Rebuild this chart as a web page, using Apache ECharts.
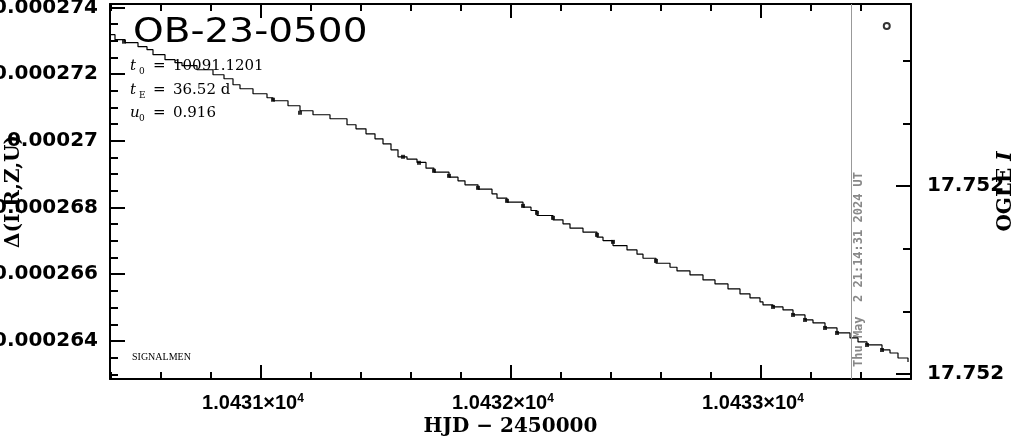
<!DOCTYPE html>
<html><head><meta charset="utf-8">
<script src="https://cdn.jsdelivr.net/npm/echarts@6/dist/echarts.min.js"></script>
<style>html,body{margin:0;padding:0;background:#fff}#c{width:1014px;height:437px}</style>
</head><body><div id="c"></div>
<script>
// Model curve (staircase), HJD-2450000 where each level starts, and its value
const modelX = [10430.396,10430.416,10430.456,10430.508,10430.544,10430.568,10430.616,10430.656,10430.684,10430.744,10430.808,10430.852,10430.888,10430.916,10430.968,10431.024,10431.048,10431.108,10431.156,10431.208,10431.276,10431.344,10431.380,10431.420,10431.456,10431.488,10431.520,10431.548,10431.584,10431.624,10431.660,10431.692,10431.752,10431.788,10431.816,10431.868,10431.924,10431.944,10431.984,10432.048,10432.080,10432.104,10432.168,10432.208,10432.236,10432.288,10432.344,10432.368,10432.408,10432.464,10432.504,10432.528,10432.580,10432.636,10432.664,10432.716,10432.768,10432.816,10432.868,10432.916,10432.956,10432.996,10433.008,10433.048,10433.088,10433.128,10433.176,10433.208,10433.256,10433.304,10433.356,10433.388,10433.424,10433.484,10433.516,10433.548,10433.588];
const modelY = [0.00027318,0.00027303,0.00027294,0.00027282,0.00027273,0.00027258,0.00027243,0.00027234,0.00027225,0.00027213,0.00027198,0.00027186,0.00027168,0.00027156,0.00027141,0.00027129,0.00027120,0.00027105,0.00027090,0.00027078,0.00027066,0.00027048,0.00027036,0.00027021,0.00027006,0.00026991,0.00026973,0.00026952,0.00026945,0.00026935,0.00026918,0.00026906,0.00026891,0.00026880,0.00026868,0.00026855,0.00026841,0.00026828,0.00026816,0.00026801,0.00026791,0.00026776,0.00026763,0.00026751,0.00026738,0.00026726,0.00026711,0.00026701,0.00026686,0.00026673,0.00026660,0.00026648,0.00026633,0.00026621,0.00026610,0.00026598,0.00026583,0.00026571,0.00026556,0.00026541,0.00026529,0.00026517,0.00026508,0.00026502,0.00026493,0.00026478,0.00026463,0.00026454,0.00026439,0.00026424,0.00026409,0.00026397,0.00026388,0.00026373,0.00026364,0.00026349,0.00026337];
// Data points
const dataX = [10430.452,10431.048,10431.156,10431.568,10431.632,10431.692,10431.752,10431.868,10431.984,10432.048,10432.104,10432.168,10432.344,10432.408,10432.580,10433.048,10433.128,10433.176,10433.256,10433.304,10433.424,10433.484];
const dataY = [0.00027297,0.00027123,0.00027084,0.00026952,0.00026934,0.00026910,0.00026895,0.00026859,0.00026820,0.00026805,0.00026784,0.00026769,0.00026718,0.00026697,0.00026640,0.00026502,0.00026478,0.00026463,0.00026439,0.00026424,0.00026388,0.00026373];
// OGLE I point (right axis)
const ogleX = [10433.503];
const ogleMag = [17.751644];
// Current-time marker
const markerHJD = 10433.364;
const markerText = 'Thu May  2 21:14:31 2024 UT';
// Texts
const eventName = 'OB-23-0500';
const paramSym = ['t','t','u'];
const paramSub = ['0','E','0'];
const paramVal = ['10091.1201','36.52 d','0.916'];
const footnote = 'SIGNALMEN';
const xName = 'HJD − 2450000';
const yName = 'Δ(I,R,Z,U)';
// Axis ranges
const xRange = [10430.396, 10433.6];
const yRange = [0.00026286, 0.0002741];
const magRange = [17.751609, 17.752208];

const chart = echarts.init(document.getElementById('c'), null, {renderer:'canvas'});
const blk = '#000';
const tickStyle = {color: blk, width: 2};
const lineStyle = {color: blk, width: 2};
const near = (v, step) => Math.abs(v/step - Math.round(v/step)) < 1e-4;

const xCommon = {
  type:'value', min:xRange[0], max:xRange[1], splitNumber:3, scale:true,
  axisLine:{show:true, onZero:false, lineStyle},
  axisTick:{show:true, inside:true, length:14, lineStyle:tickStyle},
  minorTick:{show:true, splitNumber:5, length:7, lineStyle:tickStyle},
  splitLine:{show:false}, minorSplitLine:{show:false}
};
const option = {
  animation:false,
  backgroundColor:'#fff',
  grid:{left:110, right:103, top:4, bottom:58, containLabel:false, outerBoundsMode:'none'},
  xAxis:[
    Object.assign({}, xCommon, {
      position:'bottom',
      axisLabel:{show:true, margin:14, padding:[0,16,0,0], color:blk,
        showMinLabel:false, showMaxLabel:false, hideOverlap:false,
        formatter: v => near(v,1) ? '{a|' + (v/1e4).toFixed(4) + '×10}{s|4}' : '',
        rich:{a:{fontFamily:'Liberation Sans', fontWeight:'bold', fontSize:20, color:blk},
              s:{fontFamily:'Liberation Sans', fontWeight:'bold', fontSize:12, color:blk, padding:[0,0,9,0]}}},
      name:xName, nameLocation:'middle', nameGap:38, nameMoveOverlap:false,
      nameTextStyle:{fontFamily:'DejaVu Serif', fontWeight:'bold', fontSize:20, color:blk}
    }),
    Object.assign({}, xCommon, {position:'top', axisLabel:{show:false}})
  ],
  yAxis:[
    {type:'value', position:'left', min:yRange[0], max:yRange[1], splitNumber:5, scale:true,
     axisLine:{show:true, onZero:false, lineStyle},
     axisTick:{show:true, inside:true, length:15, lineStyle:tickStyle},
     minorTick:{show:true, splitNumber:4, length:8, lineStyle:tickStyle},
     splitLine:{show:false}, minorSplitLine:{show:false},
     axisLabel:{show:true, margin:12, color:blk, fontFamily:'DejaVu Sans', fontWeight:'bold', fontSize:20,
       showMinLabel:false, showMaxLabel:false, hideOverlap:false,
       formatter: v => near(v,2e-6) ? String(Number(v.toPrecision(3))) : ''},
     name:yName, nameLocation:'middle', nameGap:86, nameRotate:90, nameMoveOverlap:false,
     nameTextStyle:{fontFamily:'DejaVu Serif', fontWeight:'bold', fontSize:20, color:blk}
    },
    {type:'value', position:'right', inverse:true, min:magRange[0], max:magRange[1], splitNumber:2, scale:true,
     axisLine:{show:true, onZero:false, lineStyle},
     axisTick:{show:true, inside:true, length:15, lineStyle:tickStyle},
     minorTick:{show:true, splitNumber:3, length:8, lineStyle:tickStyle},
     splitLine:{show:false}, minorSplitLine:{show:false},
     axisLabel:{show:true, margin:16, color:blk, fontFamily:'DejaVu Sans', fontWeight:'bold', fontSize:20,
       showMinLabel:false, showMaxLabel:false, hideOverlap:false,
       formatter: v => near(v,0.0003) ? v.toFixed(3) : ''},
     name:'{a|OGLE }{b|I}', nameLocation:'middle', nameGap:85, nameRotate:90, nameMoveOverlap:false,
     nameTextStyle:{rich:{a:{fontFamily:'DejaVu Serif', fontWeight:'bold', fontSize:20, color:blk},
                          b:{fontFamily:'DejaVu Serif', fontWeight:'bold', fontStyle:'italic', fontSize:20, color:blk}}}
    }
  ],
  series:[
    {type:'line', name:'model', xAxisIndex:0, yAxisIndex:0, step:'end', showSymbol:false, symbol:'none',
     lineStyle:{color:blk, width:1.2}, clip:true,
     data: modelX.map((x,i)=>[x, modelY[i]]),
     markLine:{silent:true, symbol:'none', animation:false,
       lineStyle:{color:'#999', width:1, type:'solid'}, label:{show:false},
       data:[{xAxis:markerHJD}]}
    },
    {type:'scatter', name:'data', xAxisIndex:0, yAxisIndex:0, symbol:'rect', symbolSize:[4,4],
     itemStyle:{color:blk}, data: dataX.map((x,i)=>[x, dataY[i]])},
    {type:'scatter', name:'OGLE', xAxisIndex:0, yAxisIndex:1, symbol:'circle', symbolSize:6,
     itemStyle:{color:'#fff', borderColor:blk, borderWidth:2}, data: ogleX.map((x,i)=>[x, ogleMag[i]])}
  ]
};
chart.setOption(option);

const mx = chart.convertToPixel({xAxisIndex:0}, markerHJD);
const serif = 'DejaVu Serif';
const g = [
  {type:'text', x:133, y:33, scaleX:1.147, style:{text:eventName, fontFamily:'DejaVu Sans', fontSize:34, fill:blk, verticalAlign:'middle'}},
  {type:'text', left:132, top:352, style:{text:footnote, fontFamily:'Liberation Serif', fontSize:10, fill:blk}},
  {type:'text', x:mx+7, y:367, rotation:Math.PI/2,
   style:{text:markerText, fontFamily:'DejaVu Sans Mono', fontWeight:'bold', fontSize:12, fill:'#888', align:'left', verticalAlign:'middle'}}
];
const rowY = [66, 90, 113];
for (let i=0;i<3;i++){
  g.push({type:'text', x:130, y:rowY[i], style:{text:paramSym[i], fontFamily:serif, fontStyle:'italic', fontSize:15, fill:blk, verticalAlign:'middle'}});
  g.push({type:'text', x:139, y:rowY[i]+6, style:{text:paramSub[i], fontFamily:serif, fontSize:9, fill:blk, verticalAlign:'middle'}});
  g.push({type:'text', x:153, y:rowY[i], style:{text:'=', fontFamily:serif, fontSize:15, fill:blk, verticalAlign:'middle'}});
  g.push({type:'text', x:173, y:rowY[i], style:{text:paramVal[i], fontFamily:serif, fontSize:15, fill:blk, verticalAlign:'middle'}});
}
chart.setOption({graphic:g});
</script></body></html>
